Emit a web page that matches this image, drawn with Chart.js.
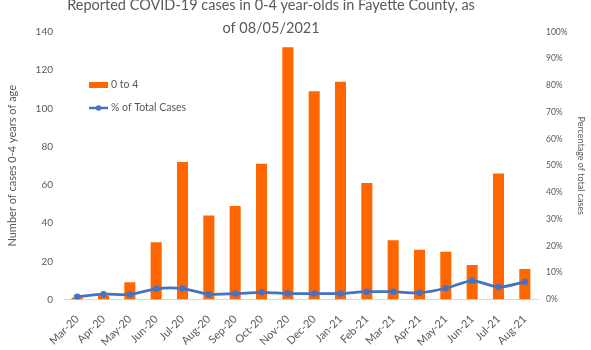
<!DOCTYPE html>
<html>
<head>
<meta charset="utf-8">
<script src="https://cdn.jsdelivr.net/npm/chart.js@4/dist/chart.umd.min.js"></script>
<style>
  html, body { margin: 0; padding: 0; background: #fff; overflow: hidden; }
  #wrap { position: relative; width: 591px; height: 350px; }
</style>
</head>
<body>
<div id="wrap"><canvas id="covidChart" width="591" height="350"></canvas></div>
<script>
// Chart data
const months = ['Mar-20', 'Apr-20', 'May-20', 'Jun-20', 'Jul-20', 'Aug-20', 'Sep-20', 'Oct-20', 'Nov-20',
                'Dec-20', 'Jan-21', 'Feb-21', 'Mar-21', 'Apr-21', 'May-21', 'Jun-21', 'Jul-21', 'Aug-21'];
const cases0to4 = [1, 2, 9, 30, 72, 44, 49, 71, 132, 109, 114, 61, 31, 26, 25, 18, 66, 16];
const pctOfTotal = [1.0, 2.0, 1.9, 4.0, 4.1, 2.0, 2.2, 2.7, 2.2, 2.2, 2.2, 2.9, 2.9, 2.5, 4.2, 7.0, 4.7, 6.6];
const titleLines = ['Reported COVID-19 cases in 0-4 year-olds in Fayette County, as', 'of 08/05/2021'];

const textColor = '#595959';
const fontFamily = 'Lato, "Liberation Sans", sans-serif';

// Title drawn by hand so it can overlap the plot like the original
const titlePlugin = {
    id: 'titlePlugin',
    afterDraw(chart) {
        const ctx = chart.ctx;
        ctx.save();
        ctx.font = '14.5px ' + fontFamily;
        ctx.fillStyle = textColor;
        ctx.textAlign = 'center';
        ctx.textBaseline = 'alphabetic';
        ctx.fillText(titleLines[0], 271, 10);
        ctx.fillText(titleLines[1], 271, 32.5);
        ctx.restore();
    }
};

// Legend inside the plot area, top-left
const legendPlugin = {
    id: 'legendPlugin',
    afterDraw(chart) {
        const ctx = chart.ctx;
        const bars = chart.data.datasets[0];
        const line = chart.data.datasets[1];
        ctx.save();
        ctx.font = '10.5px ' + fontFamily;
        ctx.textBaseline = 'middle';

        ctx.fillStyle = bars.backgroundColor;
        ctx.fillRect(89, 82, 19, 6);
        ctx.fillStyle = textColor;
        ctx.fillText(bars.label, 111, 85);

        ctx.strokeStyle = line.borderColor;
        ctx.lineWidth = 2.5;
        ctx.beginPath();
        ctx.moveTo(89, 108);
        ctx.lineTo(108, 108);
        ctx.stroke();
        ctx.fillStyle = line.borderColor;
        ctx.beginPath();
        ctx.arc(98.5, 108, 2.75, 0, Math.PI * 2);
        ctx.fill();
        ctx.fillStyle = textColor;
        ctx.fillText(line.label, 111, 108);
        ctx.restore();
    }
};

const ctx = document.getElementById('covidChart');

new Chart(ctx, {
    type: 'bar',
    data: {
        labels: months,
        datasets: [{
            type: 'bar',
            label: '0 to 4',
            data: cases0to4,
            backgroundColor: '#FF6600',
            barPercentage: 0.42,
            categoryPercentage: 1,
            yAxisID: 'y',
            order: 2
        }, {
            type: 'line',
            label: '% of Total Cases',
            data: pctOfTotal,
            borderColor: '#4472C4',
            backgroundColor: '#4472C4',
            borderWidth: 2.75,
            pointRadius: 3.25,
            pointBackgroundColor: '#4472C4',
            pointBorderWidth: 0,
            tension: 0.3,
            yAxisID: 'y1',
            order: 1
        }]
    },
    options: {
        responsive: false,
        animation: false,
        layout: {
            padding: { top: 32, bottom: 0, left: 0, right: 0 }
        },
        plugins: {
            legend: { display: false },
            title: { display: false },
            tooltip: { enabled: false }
        },
        scales: {
            x: {
                grid: { display: false },
                border: { display: true, color: '#D9D9D9', width: 1 },
                ticks: {
                    color: textColor,
                    font: { family: fontFamily, size: 11 },
                    minRotation: 45,
                    maxRotation: 45,
                    padding: 5,
                    autoSkip: false
                },
                afterFit(scale) { scale.height = 50.5; }
            },
            y: {
                position: 'left',
                min: 0,
                max: 140,
                grid: { display: false, drawTicks: false },
                border: { display: false },
                ticks: {
                    stepSize: 20,
                    color: textColor,
                    font: { family: fontFamily, size: 10 },
                    padding: 11
                },
                title: {
                    display: true,
                    text: 'Number of cases 0-4 years of age',
                    color: textColor,
                    font: { family: fontFamily, size: 11 },
                    padding: { top: 6, bottom: 0 }
                },
                afterFit(scale) { scale.width = 64; }
            },
            y1: {
                position: 'right',
                min: 0,
                max: 100,
                grid: { display: false, drawTicks: false },
                border: { display: false },
                ticks: {
                    stepSize: 10,
                    color: textColor,
                    font: { family: fontFamily, size: 8.5 },
                    padding: 8,
                    callback: value => value + '%'
                },
                title: {
                    display: true,
                    text: 'Percentage of total cases',
                    color: textColor,
                    font: { family: fontFamily, size: 9 },
                    padding: { top: 5, bottom: 0 }
                },
                afterFit(scale) { scale.width = 53; }
            }
        }
    },
    plugins: [titlePlugin, legendPlugin]
});
</script>
</body>
</html>
